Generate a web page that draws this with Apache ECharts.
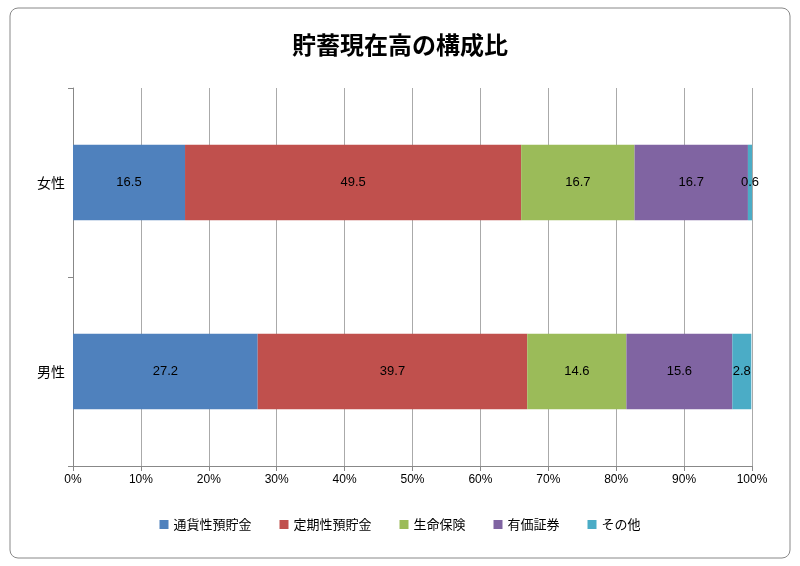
<!DOCTYPE html>
<html><head><meta charset="utf-8">
<script src="https://cdn.jsdelivr.net/npm/echarts@6/dist/echarts.min.js"></script>
<style>html,body{margin:0;padding:0;background:#fff}#c{width:800px;height:566px}</style>
</head><body><div id="c"></div>
<script>
const categories = ['男性', '女性'];
const seriesNames = ['通貨性預貯金', '定期性預貯金', '生命保険', '有価証券', 'その他'];
const s1 = [27.2, 16.5];
const s2 = [39.7, 49.5];
const s3 = [14.6, 16.7];
const s4 = [15.6, 16.7];
const s5 = [2.8, 0.6];
const colors = ['#4F81BD', '#C0504D', '#9BBB59', '#8064A2', '#4BACC6'];
const values = [s1, s2, s3, s4, s5];
const chart = echarts.init(document.getElementById('c'));
chart.setOption({
  animation: false,
  graphic: [{type: 'rect', shape: {x: 10, y: 8, width: 780, height: 550, r: 8}, style: {fill: 'none', stroke: '#888', lineWidth: 1}}],
  title: {text: '貯蓄現在高の構成比', left: 'center', top: 28, textStyle: {fontFamily: 'Noto Sans CJK JP', fontSize: 24, fontWeight: 'bold', color: '#000'}},
  legend: {bottom: 30, left: 'center', itemWidth: 9, itemHeight: 9, itemGap: 28, icon: 'rect', textStyle: {fontFamily: 'Noto Sans CJK JP', fontSize: 13, color: '#000'}},
  grid: {left: 73, right: 48, top: 88, bottom: 100},
  xAxis: {type: 'value', min: 0, max: 100, interval: 10,
    axisLabel: {formatter: '{value}%', color: '#000', fontSize: 12, fontFamily: 'Arial'},
    splitLine: {lineStyle: {color: '#aaa'}}, axisLine: {show: true, lineStyle: {color: '#888'}}, axisTick: {show: true, lineStyle: {color: '#888'}}},
  yAxis: {type: 'category', data: categories,
    axisLabel: {color: '#000', fontSize: 14, fontFamily: 'Noto Sans CJK JP'},
    axisLine: {lineStyle: {color: '#888'}}, axisTick: {show: true, lineStyle: {color: '#888'}}},
  series: seriesNames.map((n, i) => ({
    name: n, type: 'bar', stack: 'a', barWidth: '40%', data: values[i],
    itemStyle: {color: colors[i]},
    label: {show: true, position: 'inside', color: '#000', fontSize: 13, fontFamily: 'Arial'}
  }))
});
</script></body></html>
